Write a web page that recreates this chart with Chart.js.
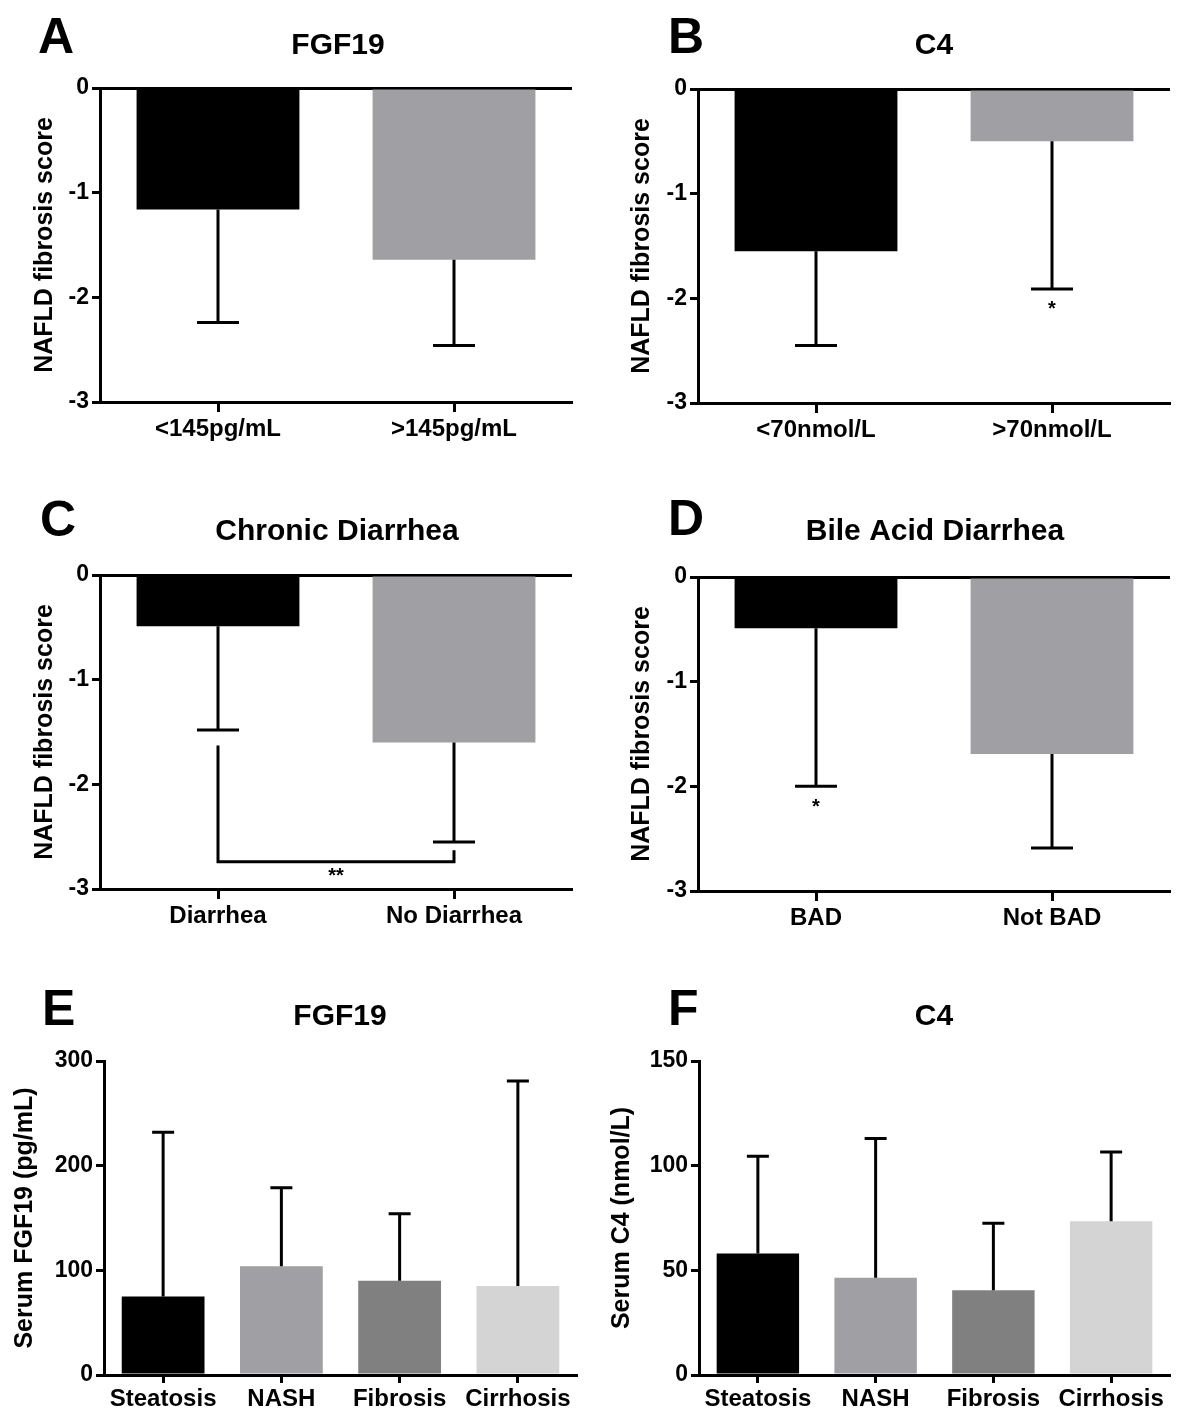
<!DOCTYPE html>
<html>
<head>
<meta charset="utf-8">
<script src="https://cdn.jsdelivr.net/npm/chart.js@4.4.0/dist/chart.umd.min.js"></script>
<style>
  body { margin: 0; background: #fff; width: 1178px; height: 1412px; position: relative; overflow: hidden; }
  canvas { position: absolute; }
</style>
</head>
<body>
<canvas id="pA" width="589" height="455" style="left:0px;top:0px"></canvas>
<canvas id="pB" width="589" height="455" style="left:589px;top:0px"></canvas>
<canvas id="pC" width="589" height="470" style="left:0px;top:470px"></canvas>
<canvas id="pD" width="589" height="470" style="left:589px;top:470px"></canvas>
<canvas id="pE" width="589" height="452" style="left:0px;top:960px"></canvas>
<canvas id="pF" width="589" height="452" style="left:589px;top:960px"></canvas>
<script>
// A - FGF19 groups
const fgfGroups = ['<145pg/mL', '>145pg/mL'];
const fgfNfs = [-1.16, -1.64];
const fgfNfsSd = [1.08, 0.82];
// B - C4 groups
const c4Groups = ['<70nmol/L', '>70nmol/L'];
const c4Nfs = [-1.55, -0.50];
const c4NfsSd = [0.90, 1.41];
// C - chronic diarrhea
const diarrheaGroups = ['Diarrhea', 'No Diarrhea'];
const diarrheaNfs = [-0.49, -1.60];
const diarrheaNfsSd = [0.99, 0.95];
// D - bile acid diarrhea
const badGroups = ['BAD', 'Not BAD'];
const badNfs = [-0.49, -1.69];
const badNfsSd = [1.51, 0.90];
// E, F - histology stages
const stages = ['Steatosis', 'NASH', 'Fibrosis', 'Cirrhosis'];
const stageFgf19 = [75, 104, 90, 85];
const stageFgf19Sd = [157, 75, 64, 196];
const stageC4 = [58, 46.5, 40.5, 73.5];
const stageC4Sd = [46.5, 66.5, 32, 33];

const nfsTicks = [0, -1, -2, -3];
const fgf19Ticks = [0, 100, 200, 300];
const c4Ticks = [0, 50, 100, 150];

// significance marks: [category position, value, text]
const starsB = [[1, -2.11, '*']];
const starsC = [[0.5, -2.88, '**']];
const starsD = [[0, -2.2, '*']];
// bracket in C: [from, to, left arm top, right arm top, level]
const bracketC = [0, 1, -1.63, -2.63, -2.74];

const twoColors = ['#000000', '#a0a0a4'];
const fourColors = ['#000000', '#a0a0a4', '#808080', '#d4d4d4'];

const FONT = "'Liberation Sans', Arial, sans-serif";

const decor = {
  id: 'decor',
  afterDatasetsDraw(chart, args, o) {
    const ctx = chart.ctx, xs = chart.scales.x, ys = chart.scales.y;
    const meta = chart.getDatasetMeta(0);
    const vals = chart.data.datasets[0].data;
    ctx.save();
    ctx.strokeStyle = '#000';
    ctx.lineWidth = 3;
    // one-sided error bars, away from zero
    o.sd.forEach((sd, i) => {
      const v = vals[i];
      const bx = meta.data[i].x;
      const y0 = ys.getPixelForValue(v);
      const y1 = ys.getPixelForValue(v + Math.sign(v) * sd);
      ctx.beginPath();
      ctx.moveTo(bx, y0); ctx.lineTo(bx, y1);
      ctx.moveTo(bx - o.cap / 2, y1); ctx.lineTo(bx + o.cap / 2, y1);
      ctx.stroke();
    });
    if (o.bracket) {
      const [a, b, ta, tb, lv] = o.bracket;
      const xa = xs.getPixelForValue(a), xb = xs.getPixelForValue(b);
      ctx.beginPath();
      ctx.moveTo(xa, ys.getPixelForValue(ta));
      ctx.lineTo(xa, ys.getPixelForValue(lv));
      ctx.lineTo(xb, ys.getPixelForValue(lv));
      ctx.lineTo(xb, ys.getPixelForValue(tb));
      ctx.stroke();
    }
    ctx.fillStyle = '#000';
    ctx.font = 'bold 20px ' + FONT;
    ctx.textAlign = 'center';
    ctx.textBaseline = 'middle';
    (o.stars || []).forEach(([p, v, t]) => {
      ctx.fillText(t, xs.getPixelForValue(p), ys.getPixelForValue(v));
    });
    ctx.restore();
  },
  afterDraw(chart, args, o) {
    const ctx = chart.ctx;
    ctx.save();
    ctx.fillStyle = '#000';
    ctx.textBaseline = 'alphabetic';
    ctx.font = 'bold 50px ' + FONT;
    ctx.textAlign = 'left';
    ctx.fillText(o.letter, o.lx, o.ly);
    ctx.font = 'bold 30px ' + FONT;
    ctx.textAlign = 'center';
    ctx.fillText(o.title, o.tx, o.ty);
    ctx.restore();
  }
};

function panel(id, p) {
  const zeroLine = p.zeroLine;
  return new Chart(document.getElementById(id), {
    type: 'bar',
    data: {
      labels: p.labels,
      datasets: [{
        data: p.values,
        backgroundColor: p.colors,
        borderWidth: 0,
        barPercentage: p.barPct,
        categoryPercentage: 1
      }]
    },
    plugins: [decor],
    options: {
      responsive: false,
      animation: false,
      devicePixelRatio: 1,
      layout: { padding: { left: 0, top: p.top, right: p.right, bottom: 0 } },
      plugins: {
        legend: { display: false },
        tooltip: { enabled: false },
        decor: {
          sd: p.sd, cap: p.cap, stars: p.stars, bracket: p.bracket,
          letter: p.letter, lx: p.lx, ly: p.ly, title: p.title, tx: p.tx, ty: p.ty
        }
      },
      scales: {
        x: {
          offset: true,
          grid: { drawOnChartArea: false, color: '#000', tickColor: '#000', tickLength: p.xTick, tickWidth: 3, offset: false },
          border: { display: true, color: '#000', width: 3 },
          ticks: { color: '#000', font: { family: FONT, size: 24, weight: 'bold' }, padding: p.xPad, maxRotation: 0, autoSkip: false },
          afterFit: s => { s.height = p.xh; }
        },
        y: {
          min: p.min, max: p.max,
          afterBuildTicks: s => { s.ticks = p.ticks.map(v => ({ value: v })); },
          grid: {
            drawOnChartArea: zeroLine,
            color: ctx => (zeroLine && ctx.tick && ctx.tick.value === 0) ? '#000' : 'rgba(0,0,0,0)',
            lineWidth: 3,
            tickColor: '#000', tickLength: 8, tickWidth: 3
          },
          border: { display: true, color: '#000', width: 3 },
          ticks: { color: '#000', font: { family: FONT, size: 23, weight: 'bold' }, padding: 3 },
          title: { display: true, text: p.yTitle, color: '#000', font: { family: FONT, size: 25, weight: 'bold' }, padding: { top: p.titlePad, bottom: 0 } },
          afterFit: s => { s.width = p.yw; }
        }
      }
    }
  });
}

panel('pA', {
  labels: fgfGroups, values: fgfNfs, sd: fgfNfsSd, colors: twoColors,
  min: -3, max: 0, ticks: nfsTicks, zeroLine: true, barPct: 0.69, cap: 42,
  top: 88, right: 17, yw: 100, xh: 53, xTick: 10, xPad: 3, titlePad: 30,
  yTitle: 'NAFLD fibrosis score', letter: 'A', lx: 38, ly: 53, title: 'FGF19', tx: 338, ty: 54
});
panel('pB', {
  labels: c4Groups, values: c4Nfs, sd: c4NfsSd, colors: twoColors, stars: starsB,
  min: -3, max: 0, ticks: nfsTicks, zeroLine: true, barPct: 0.69, cap: 42,
  top: 89, right: 8, yw: 109, xh: 52, xTick: 10, xPad: 3, titlePad: 38,
  yTitle: 'NAFLD fibrosis score', letter: 'B', lx: 79, ly: 53, title: 'C4', tx: 345, ty: 54
});
panel('pC', {
  labels: diarrheaGroups, values: diarrheaNfs, sd: diarrheaNfsSd, colors: twoColors,
  stars: starsC, bracket: bracketC,
  min: -3, max: 0, ticks: nfsTicks, zeroLine: true, barPct: 0.69, cap: 42,
  top: 105, right: 17, yw: 100, xh: 51, xTick: 10, xPad: 3, titlePad: 30,
  yTitle: 'NAFLD fibrosis score', letter: 'C', lx: 40, ly: 66, title: 'Chronic Diarrhea', tx: 337, ty: 70
});
panel('pD', {
  labels: badGroups, values: badNfs, sd: badNfsSd, colors: twoColors, stars: starsD,
  min: -3, max: 0, ticks: nfsTicks, zeroLine: true, barPct: 0.69, cap: 42,
  top: 107, right: 8, yw: 109, xh: 49, xTick: 10, xPad: 3, titlePad: 38,
  yTitle: 'NAFLD fibrosis score', letter: 'D', lx: 79, ly: 65, title: 'Bile Acid Diarrhea', tx: 346, ty: 70
});
panel('pE', {
  labels: stages, values: stageFgf19, sd: stageFgf19Sd, colors: fourColors,
  min: 0, max: 300, ticks: fgf19Ticks, zeroLine: false, barPct: 0.70, cap: 22,
  top: 101, right: 12, yw: 104, xh: 37, xTick: 8, xPad: 2, titlePad: 10,
  yTitle: 'Serum FGF19 (pg/mL)', letter: 'E', lx: 42, ly: 65, title: 'FGF19', tx: 340, ty: 65
});
panel('pF', {
  labels: stages, values: stageC4, sd: stageC4Sd, colors: fourColors,
  min: 0, max: 150, ticks: c4Ticks, zeroLine: false, barPct: 0.70, cap: 22,
  top: 101, right: 8, yw: 110, xh: 37, xTick: 8, xPad: 2, titlePad: 18,
  yTitle: 'Serum C4 (nmol/L)', letter: 'F', lx: 79, ly: 65, title: 'C4', tx: 345, ty: 65
});
</script>
</body>
</html>
